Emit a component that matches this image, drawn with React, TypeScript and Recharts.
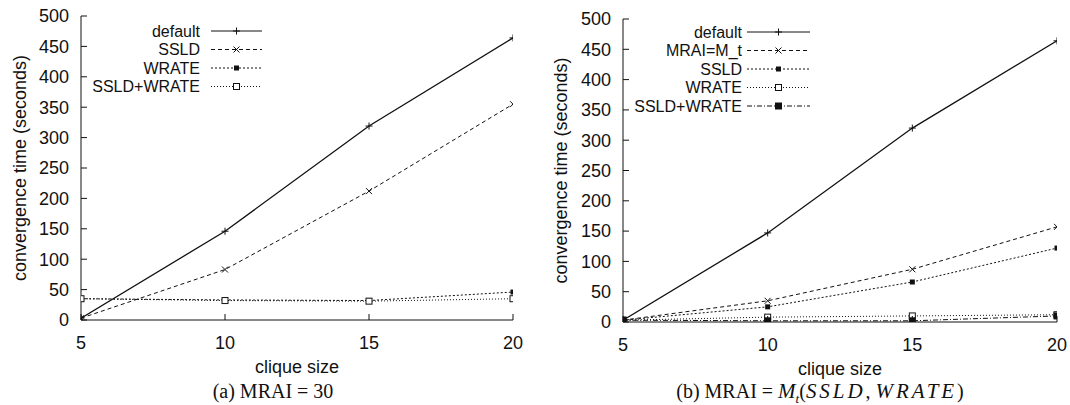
import React from 'react';
import { LineChart, Line, XAxis, YAxis, Legend } from 'recharts';

const cliqueSizes = [5, 10, 15, 20];
const yTicks = [0, 50, 100, 150, 200, 250, 300, 350, 400, 450, 500];

// (a) MRAI = 30
const aDefault = [3, 146, 319, 464];
const aSSLD = [3, 83, 212, 355];
const aWRATE = [35, 33, 32, 46];
const aSSLDWRATE = [35, 32, 31, 35];

// (b) MRAI = Mt(SSLD, WRATE)
const bDefault = [3, 147, 320, 464];
const bMRAI = [3, 35, 87, 157];
const bSSLD = [3, 25, 66, 122];
const bWRATE = [3, 8, 10, 12];
const bSSLDWRATE = [3, 2, 2, 10];

type Mark = 'plus' | 'cross' | 'star' | 'box' | 'fbox';

interface Series {
  key: string;
  name: string;
  values: number[];
  dash?: string;
  mark: Mark;
}

const seriesA: Series[] = [
  { key: 'def', name: 'default', values: aDefault, mark: 'plus' },
  { key: 'ssld', name: 'SSLD', values: aSSLD, dash: '4 3', mark: 'cross' },
  { key: 'wrate', name: 'WRATE', values: aWRATE, dash: '2 2', mark: 'star' },
  { key: 'both', name: 'SSLD+WRATE', values: aSSLDWRATE, dash: '1 2', mark: 'box' },
];

const seriesB: Series[] = [
  { key: 'def', name: 'default', values: bDefault, mark: 'plus' },
  { key: 'mrai', name: 'MRAI=M_t', values: bMRAI, dash: '4 3', mark: 'cross' },
  { key: 'ssld', name: 'SSLD', values: bSSLD, dash: '2 2', mark: 'star' },
  { key: 'wrate', name: 'WRATE', values: bWRATE, dash: '1 2', mark: 'box' },
  { key: 'both', name: 'SSLD+WRATE', values: bSSLDWRATE, dash: '5 2 1 2', mark: 'fbox' },
];

const toRows = (series: Series[]) =>
  cliqueSizes.map((c, i) => {
    const row: Record<string, number> = { clique: c };
    series.forEach((s) => (row[s.key] = s.values[i]));
    return row;
  });

const INK = '#111';
const SANS = '"Liberation Sans", Arial, sans-serif';
const SERIF = '"Liberation Serif", "Times New Roman", serif';
const FS = 18;
const LEGEND_FS = 16;

function drawMark(mark: Mark, cx: number, cy: number, key?: string) {
  const s = 3.5;
  switch (mark) {
    case 'plus':
      return (
        <g key={key}>
          <line x1={cx - s} x2={cx + s} y1={cy} y2={cy} stroke={INK} />
          <line x1={cx} x2={cx} y1={cy - s} y2={cy + s} stroke={INK} />
        </g>
      );
    case 'cross':
      return (
        <g key={key}>
          <line x1={cx - 3} x2={cx + 3} y1={cy - 3} y2={cy + 3} stroke={INK} />
          <line x1={cx - 3} x2={cx + 3} y1={cy + 3} y2={cy - 3} stroke={INK} />
        </g>
      );
    case 'star':
      return <rect key={key} x={cx - 2.5} y={cy - 2.5} width={5} height={5} fill={INK} />;
    case 'box':
      return <rect key={key} x={cx - 3} y={cy - 3} width={6} height={6} fill="#fff" stroke={INK} />;
    default:
      return <rect key={key} x={cx - 3.5} y={cy - 3.5} width={7} height={7} fill={INK} />;
  }
}

const LeftTick = (p: any) => (
  <g>
    <line x1={p.x} x2={p.x + 6} y1={p.y} y2={p.y} stroke={INK} />
    <text x={p.x - 12} y={p.y} dy="0.35em" textAnchor="end" fontSize={FS} fontFamily={SANS} fill={INK}>
      {p.payload.value}
    </text>
  </g>
);

const RightTick = (p: any) => <line x1={p.x - 6} x2={p.x} y1={p.y} y2={p.y} stroke={INK} />;

const BottomTick = (p: any) => (
  <g>
    <line x1={p.x} x2={p.x} y1={p.y} y2={p.y - 6} stroke={INK} />
    <text x={p.x} y={p.y + 29} textAnchor="middle" fontSize={FS} fontFamily={SANS} fill={INK}>
      {p.payload.value}
    </text>
  </g>
);

const TopTick = (p: any) => <line x1={p.x} x2={p.x} y1={p.y} y2={p.y + 6} stroke={INK} />;

const yTitle = (titleX: number) => (lp: any) => {
  const vb = lp.viewBox;
  const cx = vb.x + titleX;
  const cy = vb.y + vb.height / 2;
  return (
    <text
      x={cx}
      y={cy}
      transform={`rotate(-90, ${cx}, ${cy})`}
      textAnchor="middle"
      dominantBaseline="central"
      fontSize={FS}
      fontFamily={SANS}
      fill={INK}
    >
      convergence time (seconds)
    </text>
  );
};

const xTitle = (lp: any) => {
  const vb = lp.viewBox;
  return (
    <text
      x={vb.x + vb.width / 2}
      y={vb.y + 47}
      textAnchor="middle"
      dominantBaseline="central"
      fontSize={FS}
      fontFamily={SANS}
      fill={INK}
    >
      clique size
    </text>
  );
};

interface LegendLayout {
  textRight: number;
  lineFrom: number;
  lineTo: number;
  top: number;
  gap: number;
}

const LegendSvg = ({ series, lay, width }: { series: Series[]; lay: LegendLayout; width: number }) => (
  <svg width={width} height={140} style={{ display: 'block' }}>
    {series.map((s, i) => {
      const y = lay.top + i * lay.gap;
      return (
        <g key={s.key}>
          <text x={lay.textRight} y={y} dy="0.35em" textAnchor="end" fontSize={LEGEND_FS} fontFamily={SANS} fill={INK}>
            {s.name}
          </text>
          <line x1={lay.lineFrom} x2={lay.lineTo} y1={y} y2={y} stroke={INK} strokeDasharray={s.dash} />
          {drawMark(s.mark, (lay.lineFrom + lay.lineTo) / 2, y)}
        </g>
      );
    })}
  </svg>
);

interface PanelProps {
  series: Series[];
  width: number;
  margin: { top: number; right: number; left: number; bottom: number };
  yAxisWidth: number;
  xAxisHeight: number;
  titleX: number;
  legend: LegendLayout;
}

function Panel({ series, width, margin, yAxisWidth, xAxisHeight, titleX, legend }: PanelProps) {
  const rows = toRows(series);
  return (
    <LineChart width={width} height={385} data={rows} margin={margin}>
      <XAxis
        dataKey="clique"
        type="number"
        domain={[5, 20]}
        ticks={cliqueSizes}
        allowDataOverflow
        height={xAxisHeight}
        tickSize={0}
        tickMargin={0}
        tickLine={false}
        axisLine={{ stroke: INK }}
        tick={BottomTick}
        label={{ content: xTitle }}
      />
      <XAxis
        xAxisId="top"
        orientation="top"
        type="number"
        domain={[5, 20]}
        ticks={cliqueSizes}
        allowDataOverflow
        height={0}
        tickSize={0}
        tickMargin={0}
        tickLine={false}
        axisLine={{ stroke: INK }}
        tick={TopTick}
      />
      <YAxis
        domain={[0, 500]}
        ticks={yTicks}
        allowDataOverflow
        width={yAxisWidth}
        tickSize={0}
        tickMargin={0}
        tickLine={false}
        axisLine={{ stroke: INK }}
        tick={LeftTick}
        label={{ content: yTitle(titleX) }}
      />
      <YAxis
        yAxisId="right"
        orientation="right"
        domain={[0, 500]}
        ticks={yTicks}
        allowDataOverflow
        width={0}
        tickSize={0}
        tickMargin={0}
        tickLine={false}
        axisLine={{ stroke: INK }}
        tick={RightTick}
      />
      <Legend
        layout="horizontal"
        verticalAlign="middle"
        align="center"
        wrapperStyle={{ left: 0, top: 0, width, height: 140, pointerEvents: 'none' }}
        content={() => <LegendSvg series={series} lay={legend} width={width} />}
      />
      {series.map((s) => (
        <Line
          key={s.key}
          dataKey={s.key}
          name={s.name}
          stroke={INK}
          strokeWidth={s.dash ? 1 : 1.3}
          strokeDasharray={s.dash}
          dot={(p: any) => drawMark(s.mark, p.cx, p.cy, `${s.key}-${p.index}`)}
          activeDot={false}
          isAnimationActive={false}
        />
      ))}
    </LineChart>
  );
}

const captionStyle: React.CSSProperties = {
  position: 'absolute',
  top: 381,
  fontFamily: SERIF,
  fontSize: 20,
  color: INK,
  whiteSpace: 'nowrap',
  transform: 'translateX(-50%)',
  lineHeight: '21px',
};

const mathStyle: React.CSSProperties = { fontStyle: 'italic', fontSize: 21, letterSpacing: '0.14em' };

export default function App() {
  return (
    <div style={{ position: 'absolute', left: 0, top: 0, width: 1070, height: 405, background: '#fff', overflow: 'hidden' }}>
      <div style={{ position: 'absolute', left: 0, top: 0, width: 540, height: 405 }}>
        <Panel
          series={seriesA}
          width={540}
          margin={{ top: 16, right: 27, left: 0, bottom: 0 }}
          yAxisWidth={81}
          xAxisHeight={65}
          titleX={20}
          legend={{ textRight: 200, lineFrom: 211, lineTo: 262, top: 31, gap: 18.5 }}
        />
        <div style={{ ...captionStyle, left: 273 }}>(a) MRAI = 30</div>
      </div>
      <div style={{ position: 'absolute', left: 540, top: 0, width: 530, height: 405 }}>
        <Panel
          series={seriesB}
          width={530}
          margin={{ top: 19, right: 13, left: 0, bottom: 0 }}
          yAxisWidth={83}
          xAxisHeight={63}
          titleX={21}
          legend={{ textRight: 202, lineFrom: 207, lineTo: 270, top: 32, gap: 18.5 }}
        />
        <div style={{ ...captionStyle, left: 280 }}>
          (b) MRAI = <span style={{ fontStyle: 'italic', fontSize: 21 }}>M</span>
          <sub style={{ fontStyle: 'italic', fontSize: 13, lineHeight: 0 }}>t</sub>(
          <span style={mathStyle}>SSLD</span>, <span style={mathStyle}>WRATE</span>)
        </div>
      </div>
    </div>
  );
}
